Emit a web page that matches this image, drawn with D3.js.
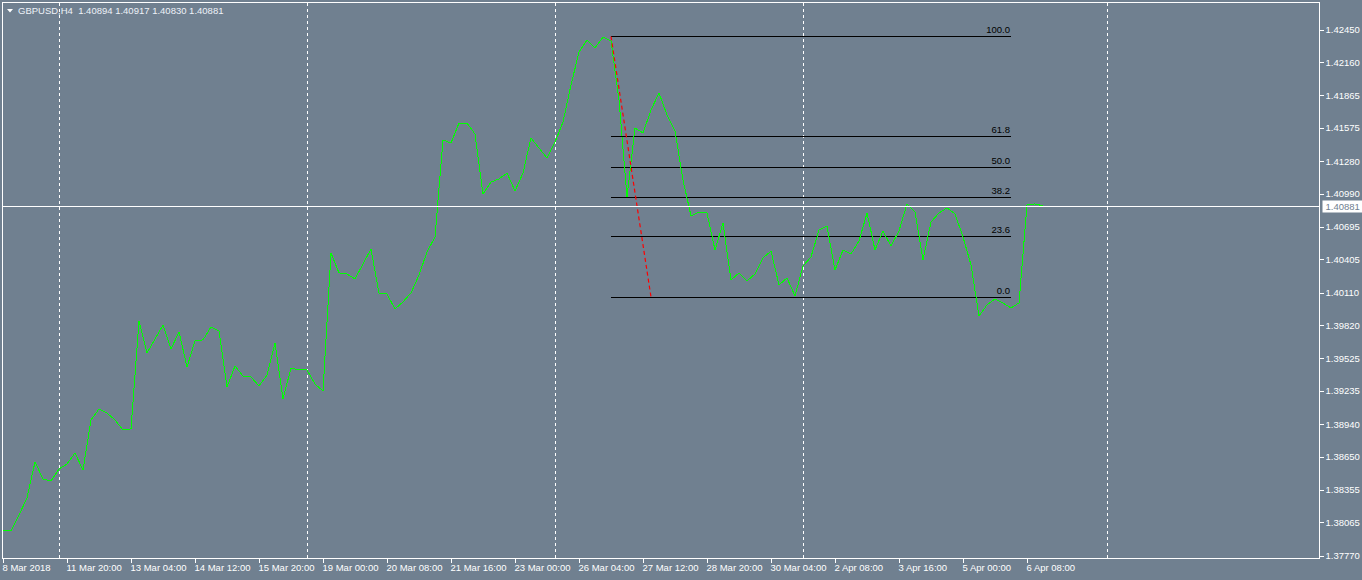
<!DOCTYPE html>
<html>
<head>
<meta charset="utf-8">
<script src="https://d3js.org/d3.v7.min.js"></script>
<style>
    body { margin: 0; background: #708090; overflow: hidden; }
    svg { display: block; }
    text { font-family: "Liberation Sans", Arial, sans-serif; }
</style>
</head>
<body>
<svg width="1362" height="580"></svg>
<script>

/************************************************/
/* Chart data                                   */
/************************************************/

const symbol = "GBPUSD,H4";
const lastBar = [1.40894, 1.40917, 1.40830, 1.40881];   // open high low close

// H4 closes, one per bar
const closes = [
    1.37988, 1.37988, 1.38130, 1.38282, 1.38602, 1.38451, 1.38433, 1.38540,
    1.38584, 1.38682, 1.38531, 1.38976, 1.39074, 1.39038, 1.38976, 1.38887,
    1.38896, 1.39857, 1.39572, 1.39696, 1.39821, 1.39607, 1.39759, 1.39447,
    1.39679, 1.39688, 1.39803, 1.39768, 1.39269, 1.39456, 1.39367, 1.39358,
    1.39278, 1.39376, 1.39661, 1.39163, 1.39438, 1.39421, 1.39421, 1.39296,
    1.39234, 1.40462, 1.40284, 1.40275, 1.40230, 1.40364, 1.40497, 1.40106,
    1.40097, 1.39963, 1.40026, 1.40106, 1.40266, 1.40470, 1.40604, 1.41467,
    1.41440, 1.41618, 1.41618, 1.41520, 1.40986, 1.41093, 1.41120, 1.41173,
    1.41013, 1.41173, 1.41485, 1.41396, 1.41307, 1.41449, 1.41627, 1.41956,
    1.42250, 1.42357, 1.42285, 1.42383, 1.42348, 1.41823, 1.40960, 1.41574,
    1.41529, 1.41734, 1.41885, 1.41689, 1.41547, 1.41111, 1.40791, 1.40826,
    1.40817, 1.40488, 1.40728, 1.40221, 1.40284, 1.40212, 1.40275, 1.40417,
    1.40479, 1.40177, 1.40239, 1.40079, 1.40346, 1.40426, 1.40666, 1.40702,
    1.40310, 1.40488, 1.40453, 1.40568, 1.40817, 1.40488, 1.40657, 1.40524,
    1.40657, 1.40898, 1.40826, 1.40399, 1.40737, 1.40817, 1.40862, 1.40809,
    1.40604, 1.40355, 1.39901, 1.39999, 1.40052, 1.40017, 1.39972, 1.40017,
    1.40889, 1.40898, 1.40881
];

const priceTicks = ["1.42450", "1.42160", "1.41865", "1.41575", "1.41280", "1.40990",
    "1.40695", "1.40405", "1.40110", "1.39820", "1.39525", "1.39235", "1.38940",
    "1.38650", "1.38355", "1.38065", "1.37770"];

const timeLabels = ["8 Mar 2018", "11 Mar 20:00", "13 Mar 04:00", "14 Mar 12:00",
    "15 Mar 20:00", "19 Mar 00:00", "20 Mar 08:00", "21 Mar 16:00", "23 Mar 00:00",
    "26 Mar 04:00", "27 Mar 12:00", "28 Mar 20:00", "30 Mar 04:00", "2 Apr 08:00",
    "3 Apr 16:00", "5 Apr 00:00", "6 Apr 08:00"];
const barsPerLabel = 8;

// bars where the vertical grid separators fall
const gridBars = [7, 38, 69, 100, 138];

// fibonacci retracement drawn on the chart
const fibLevels = [100.0, 61.8, 50.0, 38.2, 23.6, 0.0];
const fibHigh = 1.42388, fibLow = 1.40070;
const fibFromBar = 76, fibToBar = 81, fibEndBar = 126;

/************************************************/
/* Layout                                       */
/************************************************/

const W = 1362, H = 580,
    plot = {left: 2.5, top: 2.5, right: 1319.5, bottom: 558.5},
    fg = "#ffffff",
    bg = "#708090";

const svg = d3.select("svg");

const x = d3.scaleLinear()
    .domain([0, 130])
    .range([3, 1043]);

const y = d3.scaleLinear()
    .domain([+priceTicks[priceTicks.length - 1], +priceTicks[0]])
    .range([555.5, 29.5]);

// grid separators
svg.append("g").selectAll("line").data(gridBars).enter().append("line")
    .attr("x1", d => Math.round(x(d)) + 0.5)
    .attr("x2", d => Math.round(x(d)) + 0.5)
    .attr("y1", plot.top)
    .attr("y2", plot.bottom)
    .attr("stroke", fg)
    .attr("stroke-dasharray", "3,3")
    .attr("shape-rendering", "crispEdges");

// fibonacci levels
const fib = svg.append("g");
const fibPrice = lvl => fibLow + (fibHigh - fibLow) * lvl / 100;

fib.selectAll("line").data(fibLevels).enter().append("line")
    .attr("x1", x(fibFromBar))
    .attr("x2", x(fibEndBar))
    .attr("y1", d => Math.round(y(fibPrice(d))) + 0.5)
    .attr("y2", d => Math.round(y(fibPrice(d))) + 0.5)
    .attr("stroke", "#000")
    .attr("shape-rendering", "crispEdges");

fib.selectAll("text").data(fibLevels).enter().append("text")
    .attr("x", x(fibEndBar) - 1)
    .attr("y", d => Math.round(y(fibPrice(d))) - 3)
    .attr("text-anchor", "end")
    .style("font-size", "9.5px")
    .attr("fill", "#000")
    .text(d => d.toFixed(1));

// price line
const line = d3.line()
    .x((d, i) => x(i))
    .y(d => y(d));

svg.append("path")
    .datum(closes)
    .attr("d", line)
    .attr("fill", "none")
    .attr("stroke", "#00ff00")
    .attr("stroke-width", 1)
    .attr("shape-rendering", "crispEdges");

// trend line of the retracement
svg.append("line")
    .attr("x1", x(fibFromBar))
    .attr("y1", y(fibHigh))
    .attr("x2", x(fibToBar))
    .attr("y2", y(fibLow))
    .attr("stroke", "#ff0000")
    .attr("stroke-width", 1.2)
    .attr("stroke-dasharray", "4,3");

// current price line
const lastY = Math.round(y(lastBar[3])) + 0.5;
svg.append("line")
    .attr("x1", plot.left)
    .attr("x2", plot.right)
    .attr("y1", lastY)
    .attr("y2", lastY)
    .attr("stroke", fg)
    .attr("shape-rendering", "crispEdges");

// frame
svg.append("rect")
    .attr("x", plot.left)
    .attr("y", plot.top)
    .attr("width", plot.right - plot.left)
    .attr("height", plot.bottom - plot.top)
    .attr("fill", "none")
    .attr("stroke", fg)
    .attr("shape-rendering", "crispEdges");

/************************************************/
/* Axes                                         */
/************************************************/

const yAxis = d3.axisRight(y)
    .tickValues(priceTicks.map(Number))
    .tickFormat((d, i) => priceTicks[i])
    .tickSize(4)
    .tickPadding(2);

const gy = svg.append("g")
    .attr("transform", "translate(" + plot.right + ",0)")
    .call(yAxis);

const xAxis = d3.axisBottom(x)
    .tickValues(timeLabels.map((d, i) => i * barsPerLabel))
    .tickFormat((d, i) => timeLabels[i])
    .tickSize(4)
    .tickPadding(2);

const gx = svg.append("g")
    .attr("transform", "translate(0," + plot.bottom + ")")
    .call(xAxis);

[gx, gy].forEach(g => {
    g.select(".domain").remove();
    g.selectAll("line").attr("stroke", fg).attr("shape-rendering", "crispEdges");
    g.selectAll("text")
        .attr("fill", fg)
        .style("font-size", "9.5px")
        .style("font-family", "'Liberation Sans', Arial, sans-serif");
});
gx.selectAll("text").attr("text-anchor", "start").attr("dx", "-1");

// current price tag
const tag = svg.append("g").attr("transform", "translate(" + (plot.right + 3) + "," + lastY + ")");
tag.append("rect")
    .attr("x", 0).attr("y", -6)
    .attr("width", W - plot.right - 3).attr("height", 12)
    .attr("fill", fg);
tag.append("text")
    .attr("x", 3).attr("dy", "0.35em")
    .style("font-size", "9.5px")
    .attr("fill", bg)
    .text(lastBar[3].toFixed(5));

/************************************************/
/* Header                                       */
/************************************************/

svg.append("path")
    .attr("d", "M7,9L13,9L10,12.5Z")
    .attr("fill", fg);

svg.append("text")
    .attr("x", 18)
    .attr("y", 14)
    .style("font-size", "9.5px")
    .attr("fill", "#eef2f8")
    .attr("xml:space", "preserve")
    .text(symbol + "  " + lastBar.map(d => d.toFixed(5)).join(" "));

</script>
</body>
</html>
